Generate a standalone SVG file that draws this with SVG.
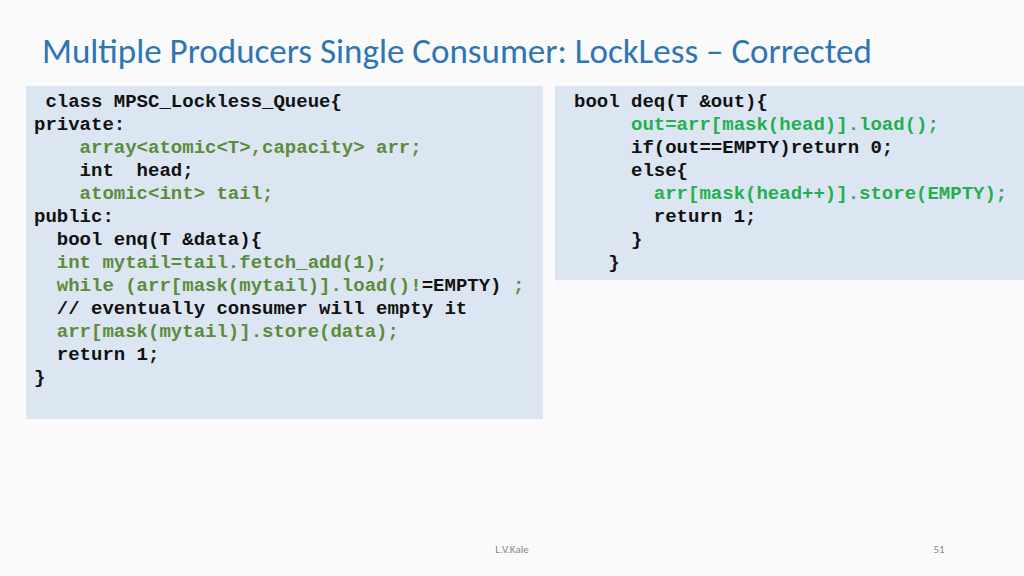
<svg xmlns="http://www.w3.org/2000/svg" width="1024" height="576" viewBox="0 0 1024 576">
<style>
.c{font-family:"Liberation Mono",monospace;font-weight:bold;font-size:19px;fill:#111;white-space:pre}
.g{fill:#5b8c3a}.b{fill:#22b04e}
</style>
<rect width="1024" height="576" fill="#fafafa"/>
<text x="42" y="63" font-family="Calibri,Carlito,'Open Sans',sans-serif" font-size="35" fill="#2e75b6">Multiple Producers Single Consumer: LockLess – Corrected</text>
<g id="enq">
<rect x="26" y="86" width="517" height="333" fill="#dce6f2"/>
<text class="c" xml:space="preserve"><tspan x="34" y="107"> class MPSC_Lockless_Queue{</tspan><tspan x="34" y="130">private:</tspan><tspan x="34" y="153" class="g">    array&lt;atomic&lt;T&gt;,capacity&gt; arr;</tspan><tspan x="34" y="176">    int  head;</tspan><tspan x="34" y="199" class="g">    atomic&lt;int&gt; tail;</tspan><tspan x="34" y="222">public:</tspan><tspan x="34" y="245">  bool enq(T &amp;data){</tspan><tspan x="34" y="268" class="g">  int mytail=tail.fetch_add(1);</tspan><tspan x="34" y="291" class="g">  while (arr[mask(mytail)].load()!<tspan fill="#111">=EMPTY)</tspan> ;</tspan><tspan x="34" y="314">  // eventually consumer will empty it</tspan><tspan x="34" y="337" class="g">  arr[mask(mytail)].store(data);</tspan><tspan x="34" y="360">  return 1;</tspan><tspan x="34" y="383">}</tspan></text>
</g>
<g id="deq">
<rect x="555" y="86" width="469" height="194" fill="#dce6f2"/>
<text class="c" xml:space="preserve"><tspan x="574" y="107">bool deq(T &amp;out){</tspan><tspan x="574" y="130" class="b">     out=arr[mask(head)].load();</tspan><tspan x="574" y="153">     if(out==EMPTY)return 0;</tspan><tspan x="574" y="176">     else{</tspan><tspan x="574" y="199" class="b">       arr[mask(head++)].store(EMPTY);</tspan><tspan x="574" y="222">       return 1;</tspan><tspan x="574" y="245">     }</tspan><tspan x="574" y="268">   }</tspan></text>
</g>
<text x="512" y="553" text-anchor="middle" font-family="Calibri,Carlito,'Open Sans',sans-serif" font-size="11" fill="#888">L.V.Kale</text>
<text x="939" y="553" text-anchor="middle" font-family="Calibri,Carlito,'Open Sans',sans-serif" font-size="11" fill="#888">51</text>
</svg>
